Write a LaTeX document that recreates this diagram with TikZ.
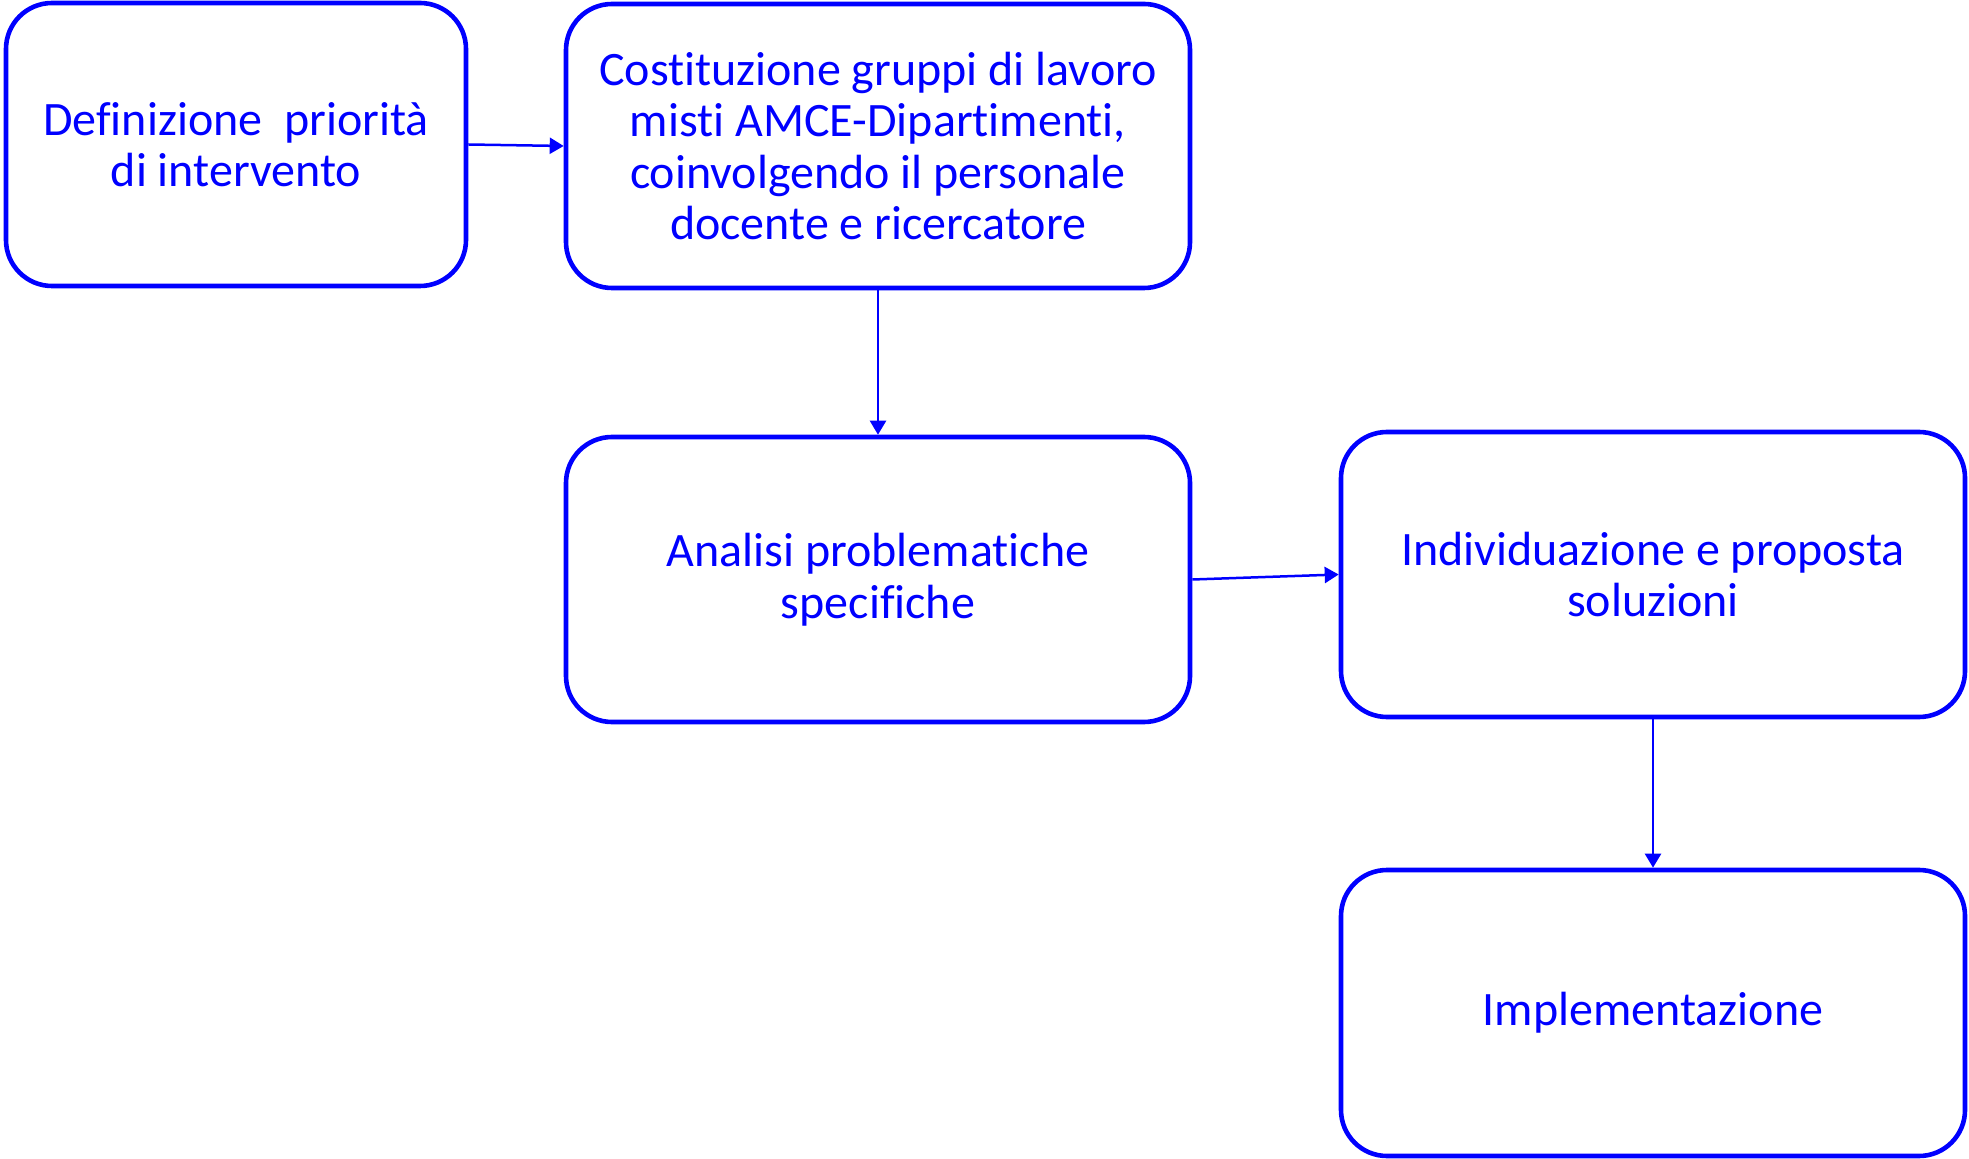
\documentclass[tikz,border=0pt]{standalone}
\usepackage{fontspec}
\setmainfont{Carlito}[Ligatures={NoCommon}]
\usetikzlibrary{arrows.meta}
\definecolor{flowblue}{RGB}{0,0,255}
\tikzset{
  box/.style={draw=flowblue, line width=2.3pt, rounded corners=23pt, inner sep=0pt,
    align=center, text=flowblue, font=\fontsize{24}{25.8}\selectfont},
  link/.style={draw=flowblue, line width=1.25pt, -{Triangle[length=7pt,width=8pt]}}
}
\begin{document}
\begin{tikzpicture}[x=0.5pt,y=-0.5pt]
\useasboundingbox (0,0) rectangle (1969,1159);
\node[box, minimum width=230pt, minimum height=141.5pt] (a) at (236,144.5)
  {Definizione~ priorità\\di intervento};
\node[box, minimum width=312pt, minimum height=142pt] (b) at (878,146)
  {Costituzione gruppi di lavoro\\misti AMCE-Dipartimenti,\\coinvolgendo il personale\\docente e ricercatore};
\node[box, minimum width=312pt, minimum height=142.5pt] (c) at (878,579.5)
  {Analisi problematiche\\specifiche};
\node[box, minimum width=312pt, minimum height=142.5pt] (d) at (1653,574.5)
  {Individuazione e proposta\\soluzioni};
\node[box, minimum width=312pt, minimum height=143pt] (e) at (1653,1013)
  {Implementazione};
\draw[link] (a.east) -- (b.west);
\draw[link] (b.south) -- (c.north);
\draw[link] (c.east) -- (d.west);
\draw[link] (d.south) -- (e.north);
\end{tikzpicture}
\end{document}
